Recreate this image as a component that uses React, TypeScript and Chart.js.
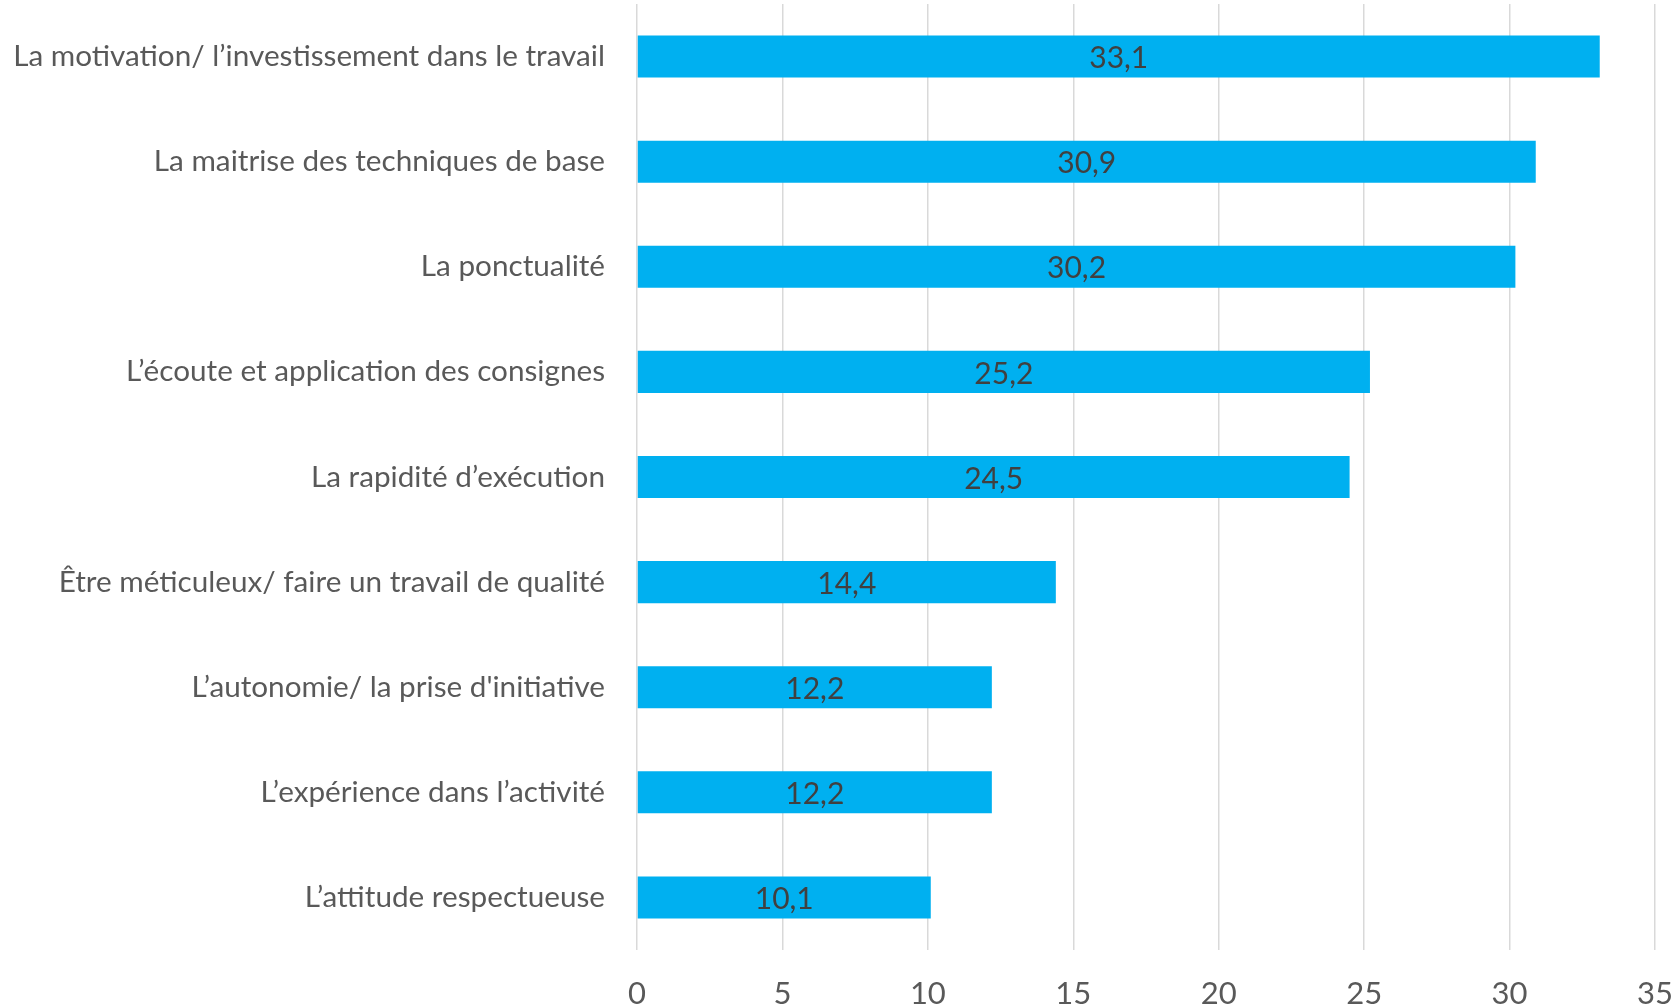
import React, { useEffect, useRef } from "react";
import { Chart, registerables } from "chart.js";

Chart.register(...registerables);

const categories = [
  "La motivation/ l\u2019investissement dans le travail",
  "La maitrise des techniques de base",
  "La ponctualité",
  "L\u2019écoute et application des consignes",
  "La rapidité d\u2019exécution",
  "Être méticuleux/ faire un travail de qualité",
  "L\u2019autonomie/ la prise d'initiative",
  "L\u2019expérience dans l\u2019activité",
  "L\u2019attitude respectueuse",
];
const values = [33.1, 30.9, 30.2, 25.2, 24.5, 14.4, 12.2, 12.2, 10.1];
const xMin = 0;
const xMax = 35;
const xStep = 5;

const FONT = "Lato, 'Open Sans', sans-serif";
const TARGET = { left: 637, right: 1655, top: 4, bottom: 950 };

const dataLabelPlugin = {
  id: "dataLabels",
  afterDatasetsDraw(chart: any) {
    const ctx = chart.ctx;
    const meta = chart.getDatasetMeta(0);
    ctx.save();
    ctx.font = `30px ${FONT}`;
    ctx.fillStyle = "#404040";
    ctx.textAlign = "center";
    ctx.textBaseline = "middle";
    meta.data.forEach((bar: any, i: number) => {
      const v = values[i];
      ctx.fillText(v.toFixed(1).replace(".", ","), (bar.base + bar.x) / 2, bar.y + 2);
    });
    ctx.restore();
  },
};

export default function App() {
  const ref = useRef<HTMLCanvasElement | null>(null);
  useEffect(() => {
    document.body.style.margin = "0";
    const chart: any = new Chart(ref.current as HTMLCanvasElement, {
      type: "bar",
      data: {
        labels: categories,
        datasets: [
          {
            data: values,
            backgroundColor: "#00B0F0",
            borderWidth: 0,
            barPercentage: 0.4,
            categoryPercentage: 1,
          },
        ],
      },
      options: {
        indexAxis: "y",
        animation: false,
        responsive: false,
        layout: {
          padding: { top: TARGET.top, right: 1680 - TARGET.right, left: 0, bottom: 0 },
        },
        plugins: {
          legend: { display: false },
          tooltip: { enabled: false },
          title: { display: false },
        },
        scales: {
          x: {
            min: xMin,
            max: xMax,
            ticks: {
              stepSize: xStep,
              color: "#595959",
              font: { family: FONT, size: 31 },
              padding: 25,
            },
            grid: { color: "#d9d9d9", lineWidth: 1.5, drawTicks: false },
            border: { display: false },
            afterFit: (scale: any) => {
              scale.height = 1008 - TARGET.bottom;
              scale.paddingLeft = 0;
              scale.paddingRight = 0;
              scale.paddingTop = 0;
              scale.paddingBottom = 0;
            },
          },
          y: {
            ticks: {
              color: "#595959",
              font: { family: FONT, size: 29.7 },
              padding: 32,
            },
            grid: { display: false, drawTicks: false },
            border: { display: false },
            afterFit: (scale: any) => {
              scale.width = TARGET.left;
              scale.paddingLeft = 0;
              scale.paddingRight = 0;
              scale.paddingTop = 0;
              scale.paddingBottom = 0;
            },
          },
        },
      },
      plugins: [dataLabelPlugin],
    });
    return () => chart.destroy();
  }, []);
  return (
    <div style={{ position: "absolute", left: 0, top: 0, width: 1680, height: 1008, background: "#fff" }}>
      <canvas ref={ref} width={1680} height={1008} style={{ display: "block" }} />
    </div>
  );
}
